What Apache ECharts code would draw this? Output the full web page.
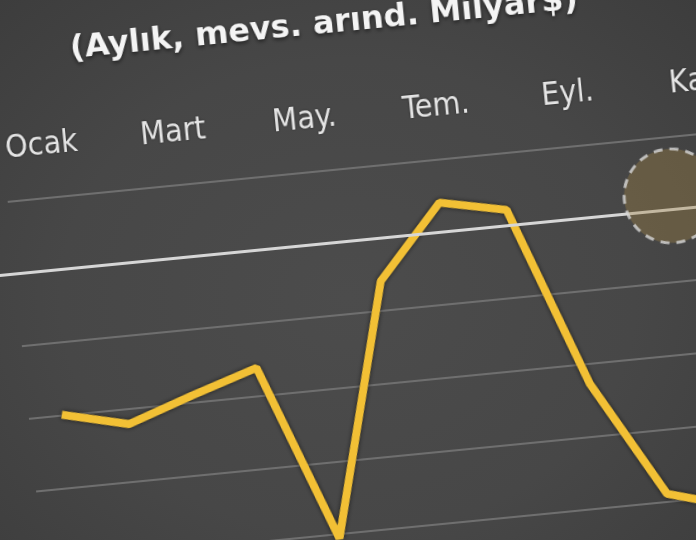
<!DOCTYPE html>
<html>
<head>
<meta charset="utf-8">
<script src="https://cdn.jsdelivr.net/npm/echarts@6/dist/echarts.min.js"></script>
<style>
  html, body { margin: 0; padding: 0; width: 696px; height: 540px; overflow: hidden; }
  body { background: radial-gradient(ellipse 75% 80% at 50% 55%, #4c4c4c 0%, #474747 55%, #3c3c3c 100%); }
  #chart {
    position: absolute; left: -60px; top: -120px; width: 900px; height: 760px;
    transform-origin: 408px 390px; transform: rotate(-5.6deg);
  }
</style>
</head>
<body>
<div id="chart"></div>
<script>
// Month categories (Turkish), every other one is labelled on the axis
const months = ['Ocak', 'Şubat', 'Mart', 'Nisan', 'May.', 'Haziran', 'Tem.', 'Ağustos', 'Eyl.', 'Ekim', 'Kas.', 'Aralık'];
// Monthly, seasonally adjusted, billion $
const values = [-1.99, -2.21, -1.9, -1.61, -4.06, -0.59, 0.41, 0.22, -2.28, -3.89, -4.15, null];
// Highlight bubble (month position, value)
const bubbleX = [9.5];
const bubbleY = [0.19];
// Value axis range / ticks
const yMin = -5, yMax = 1, yStep = 1;
const refLine = 0;
const titleText = '(Aylık, mevs. arınd. Milyar$)';

const chart = echarts.init(document.getElementById('chart'), null, { renderer: 'canvas' });
chart.setOption({
  backgroundColor: 'transparent',
  animation: false,
  title: {
    text: titleText,
    left: 148, top: 123,
    textStyle: {
      fontFamily: 'DejaVu Sans', fontWeight: 'bold', fontSize: 32, color: '#f4f4f4',
      textShadowColor: 'rgba(0,0,0,0.55)', textShadowBlur: 4, textShadowOffsetY: 2
    }
  },
  grid: { left: 76, right: 31, top: 289, bottom: 35.5, containLabel: false },
  xAxis: [
    {
      type: 'category', data: months, position: 'top', boundaryGap: true,
      axisLine: { show: false }, axisTick: { show: false }, splitLine: { show: false },
      axisLabel: {
        interval: 1, margin: 36, fontSize: 32, color: '#e4e4e4',
        padding: [0, 0, 0, 12],
        fontFamily: "'DejaVu Sans Condensed', 'DejaVu Sans'",
        textShadowColor: 'rgba(0,0,0,0.4)', textShadowBlur: 3
      }
    },
    { type: 'value', min: -0.5, max: 11.5, show: false }
  ],
  yAxis: {
    type: 'value', min: yMin, max: yMax, interval: yStep,
    axisLine: { show: false }, axisTick: { show: false }, axisLabel: { show: false },
    splitLine: { lineStyle: { color: '#6f6f6f', width: 2 } }
  },
  series: [
    {
      type: 'line', data: values, xAxisIndex: 0, showSymbol: false, z: 4,
      lineStyle: { color: '#f2c035', width: 8, shadowColor: 'rgba(0,0,0,0.6)', shadowBlur: 5 },
      markLine: {
        silent: true, symbol: ['none', 'none'], label: { show: false },
        lineStyle: { color: '#d6d6d6', width: 3, type: 'solid' },
        data: [[{ yAxis: refLine, x: 0 }, { yAxis: refLine, x: 900 }]]
      }
    },
    {
      type: 'scatter', xAxisIndex: 1, z: 5, symbol: 'circle', symbolSize: 94,
      data: bubbleX.map((x, i) => [x, bubbleY[i]]),
      itemStyle: {
        color: 'rgba(161,131,66,0.45)', borderColor: '#d8d8d8', borderWidth: 3,
        borderType: [9, 7]
      }
    }
  ]
});
</script>
</body>
</html>
